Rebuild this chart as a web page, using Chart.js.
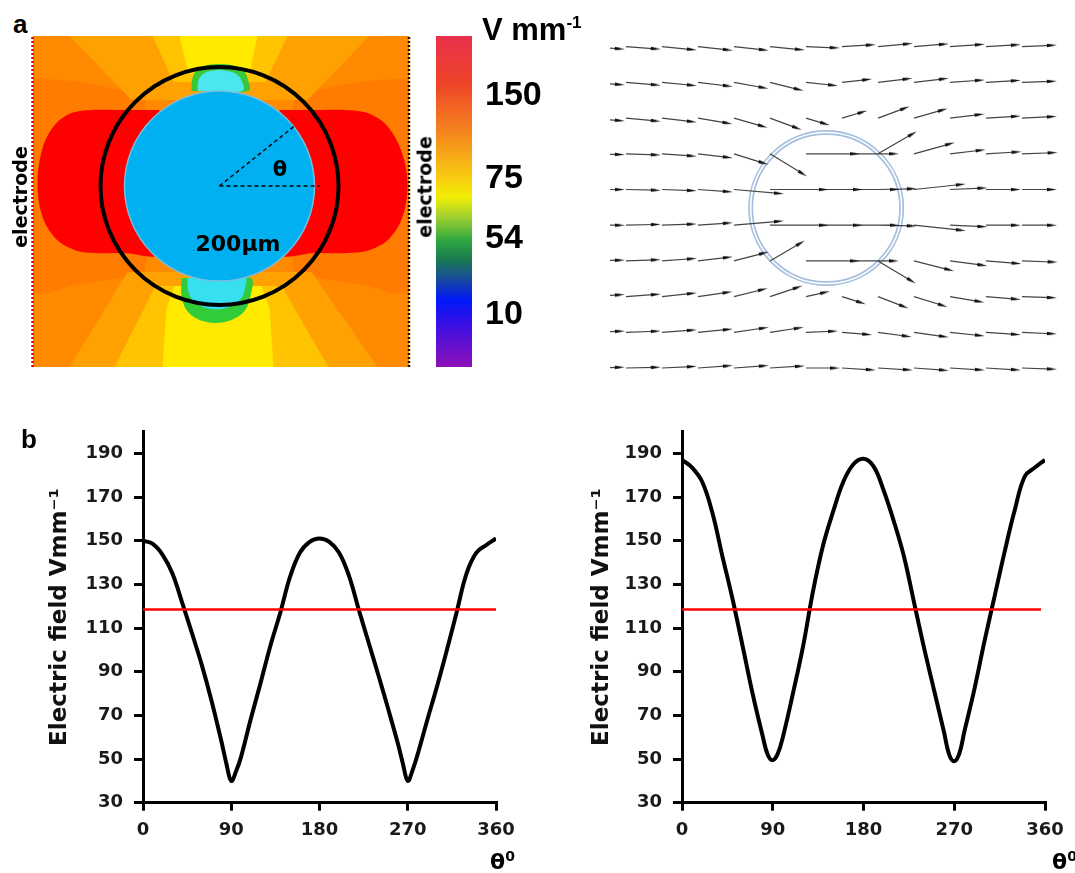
<!DOCTYPE html>
<html>
<head>
<meta charset="utf-8">
<script src="https://cdn.jsdelivr.net/npm/chart.js@4.4.1/dist/chart.umd.min.js"></script>
<style>
  body { margin: 0; background: #fff; }
  #fig { position: relative; width: 1075px; height: 873px; overflow: hidden; background: #fff; }
  #fig canvas { position: absolute; }
  .lbl { position: absolute; line-height: 1; white-space: nowrap; color: #000; font-weight: bold; }
  .arial { font-family: 'Liberation Sans', Arial, sans-serif; }
  .dv { font-family: 'DejaVu Sans', sans-serif; }
  .rot { transform: translate(-50%, -50%) rotate(-90deg); }
  .ctr { transform: translate(-50%, -50%); }
</style>
</head>
<body>
<div id="fig">
  <canvas id="fieldMap" width="386" height="331" style="left:28px;top:36px"></canvas>
  <canvas id="colorBar" width="139" height="363" style="left:436px;top:20px"></canvas>
  <canvas id="quiver" width="460" height="360" style="left:610px;top:30px"></canvas>
  <canvas id="leftChart" width="540" height="453" style="left:0;top:420px"></canvas>
  <canvas id="rightChart" width="535" height="453" style="left:540px;top:420px"></canvas>

  <div class="lbl arial" style="left:13px;top:11px;font-size:26px">a</div>
  <div class="lbl arial" style="left:21px;top:426px;font-size:26px">b</div>
  <div class="lbl arial" style="left:482px;top:14px;font-size:31px">V mm<span style="font-size:17px;position:relative;top:-12px">-1</span></div>
  <div class="lbl dv rot" style="left:20px;top:197px;font-size:19px">electrode</div>
  <div class="lbl dv rot" style="left:425px;top:187px;font-size:19px">electrode</div>
  <div class="lbl dv ctr" style="left:280px;top:169px;font-size:21px">θ</div>
  <div class="lbl dv ctr" style="left:238px;top:244px;font-size:22px">200µm</div>
  <div class="lbl dv" style="left:490px;top:851px;font-size:22px">θ<span style="font-size:14px;position:relative;top:-8px">0</span></div>
  <div class="lbl dv" style="left:1052px;top:851px;font-size:22px">θ<span style="font-size:14px;position:relative;top:-8px">0</span></div>
</div>

<script>
// ---------- 1. Data ----------

// panel b: field along the cell boundary (angle in degrees, field in V/mm)
const thetaDeg = [0, 10, 20, 30, 40, 50, 60, 70, 80, 85, 90, 95, 100, 110, 120, 130, 140, 150, 160, 170, 180,
                  190, 200, 210, 220, 230, 240, 250, 260, 265, 270, 275, 280, 290, 300, 310, 320, 330, 340, 350, 360];
const fieldLeft = [150, 148.5, 143.5, 135, 121.5, 107.5, 93, 76.5, 58, 48, 40, 44.5, 51, 68.5, 85, 102, 117, 133.5, 144.5, 149.5, 151,
                   149.5, 144.5, 134, 118.5, 103.5, 88.5, 73, 57, 48, 40, 45, 52, 68, 83.5, 100, 117.5, 135, 144.5, 148, 151];
const fieldRight = [187, 183.5, 177, 163, 143, 123.5, 102, 80, 60.5, 52, 49.5, 52.5, 60, 80, 101.5, 127, 148, 163.5, 177, 185, 187.5,
                    184, 173, 159, 143, 122, 101, 81.5, 62, 52, 49, 52.5, 62.5, 82, 104, 124.5, 145, 164, 179.5, 183.5, 187];
const thresholdLeftX = [0, 360];
const thresholdRightX = [0, 356];
const thresholdY = [118.5, 118.5];
const xTicks = [0, 90, 180, 270, 360];
const yTicks = [30, 50, 70, 90, 110, 130, 150, 170, 190];

// colour bar (V/mm labels and where they sit on the bar, 0 = bottom, 1 = top)
const cbarTickLabels = ['150', '75', '54', '10'];
const cbarTickPos = [0.819, 0.568, 0.388, 0.159];
const cbarStopPos = [0, 0.142, 0.293, 0.435, 0.486, 0.547, 0.616, 0.677, 0.737, 0.798, 0.858, 1];
const cbarStopColor = ['#e8304c', '#ee4428', '#f5861e', '#f8d010', '#f2ee05', '#a0d030', '#30a840',
                       '#187850', '#1848a0', '#0018f8', '#3010e8', '#9010b8'];

// panel a: contour bands of the field map, in µm with the cell centre at 0,0
const fieldBackground = [[-186.5, 150], [189.5, 150], [189.5, -181], [-186.5, -181]];
const haloLeft = [[-186.5, 108], [-140, 104], [-100, 96], [-75, 90], [-75, -86], [-100, -92], [-140, -98], [-186.5, -104]];
const haloRight = [[189.5, 108], [140, 104], [100, 96], [75, 90], [75, -86], [100, -92], [140, -98], [189.5, -104]];
const topFanOuter = [[-150, 150], [150, 150], [88, 86], [-88, 86]];
const topFanMid = [[-67, 150], [68, 150], [46, 104], [-46, 104]];
const topFanCore = [[-40, 150], [38, 150], [30, 112], [-31, 112]];
const botFanOuter = [[-150, -181], [158, -181], [92, -86], [-92, -86]];
const botFanMid = [[-105, -181], [109, -181], [62, -100], [-64, -100]];
const botFanCore = [[-57, -181], [54, -181], [50, -122], [42, -100], [-45, -100], [-53, -122]];
const lobeLeft = [[-60, 76], [-100, 76], [-128, 76], [-148, 73], [-163, 63], [-174, 46], [-180, 25], [-182, 3],
                  [-180, -20], [-173, -40], [-160, -56], [-142, -65], [-125, -67], [-95, -67], [-60, -67]];
const lobeRight = [[60, 76], [100, 76], [126, 76], [148, 73], [165, 63], [177, 46], [185, 25], [188, 3],
                   [186, -20], [179, -40], [166, -56], [147, -65], [128, -67], [95, -67], [60, -67]];
const greenTop = [[-28, 95], [-27, 108], [-22, 117], [-12, 121], [0, 122], [12, 121], [23, 117], [28, 108], [29, 95]];
const cyanTop = [[-22, 95], [-21, 106], [-15, 113], [0, 116], [15, 113], [22, 106], [23, 95]];
const greenBot = [[-38, -92], [-38, -110], [-33, -124], [-22, -133], [-5, -137], [12, -134], [25, -125], [31, -110], [31, -92]];
const cyanBot = [[-32, -92], [-31, -106], [-24, -117], [-8, -123], [10, -121], [22, -112], [26, -100], [26, -92]];
const radiusLine = [[0, 0], [75, 60]];
const angleLine = [[0, 0], [100, 0]];
const electrodeLeft = [[-187, -181], [-187, 150]];
const electrodeRight = [[189.5, -181], [189.5, 150]];

// panel a right: field arrows, tails on the grid, (u, v) in grid units, v pointing down
const quiverCols = [0, 1, 2, 3, 4, 5, 6, 7, 8, 9, 10, 11, 12];
const quiverRows = [0, 1, 2, 3, 4, 5, 6, 7, 8, 9];
const quiverU = [
  [.83, .83, .83, .83, .83, .83, .8, .8, .83, .83, .83, .83, .83],
  [.83, .83, .83, .83, .82, .8, .75, .7, .82, .83, .83, .83, .83],
  [.83, .83, .83, .82, .8, .75, .53, .57, .75, .8, .82, .83, .83],
  [.83, .83, .83, .83, .82, .91, 1.35, 1.44, .96, 1.0, .85, .85, .85],
  [.83, .83, .83, .83, 1.25, 1.49, 1.44, 1.46, .94, 1.3, .9, .83, .83],
  [.83, .83, .83, .83, 1.25, 1.49, 1.44, 1.46, .94, 1.3, .9, .83, .83],
  [.83, .83, .83, .83, .83, .85, 1.35, 1.44, .93, .98, .9, .85, .85],
  [.83, .83, .83, .82, .8, .77, .53, .53, .72, .8, .82, .83, .83],
  [.83, .83, .83, .83, .83, .8, .75, .7, .8, .83, .83, .83, .83],
  [.83, .83, .83, .83, .83, .83, .8, .8, .83, .83, .83, .83, .83]
];
const quiverV = [
  [.06, .06, .08, .09, .09, .08, .03, -.05, -.08, -.07, -.06, -.05, -.04],
  [.06, .07, .08, .1, .15, .2, .08, -.08, -.1, -.1, -.06, -.05, -.03],
  [.07, .08, .1, .14, .23, .28, .16, -.17, -.28, -.23, -.1, -.05, -.04],
  [.02, .03, .06, .1, .26, .56, 0, 0, -.56, -.28, -.1, -.05, -.03],
  [0, .02, .03, .06, .11, 0, 0, 0, -.02, -.14, -.04, 0, 0],
  [0, -.02, -.03, -.06, -.11, 0, 0, 0, .02, .14, .04, 0, 0],
  [-.02, -.03, -.06, -.1, -.22, -.5, 0, 0, .56, .25, .12, .07, .03],
  [-.05, -.06, -.09, -.12, -.2, -.26, -.12, .17, .28, .25, .14, .07, .03],
  [-.03, -.03, -.06, -.08, -.12, -.12, -.03, .06, .11, .12, .09, .06, .04],
  [-.02, -.02, -.04, -.06, -.06, -.05, 0, .05, .05, .06, .05, .05, .03]
];
const quiverCircle = [6.56, 4.52];

// ---------- 2. Shared bits ----------
Chart.defaults.font.family = "'DejaVu Sans', sans-serif";
const noPlugins = { legend: { display: false }, tooltip: { enabled: false } };
const toXY = pts => pts.map(p => ({ x: p[0], y: p[1] }));

// ---------- 3. Field map ----------
function polygon(pts, color, tension) {
  return {
    type: 'line', data: toXY(pts.concat([pts[0]])), fill: 'shape',
    backgroundColor: color, borderWidth: 0, pointRadius: 0, tension: tension || 0
  };
}

const fieldSets = [
  polygon(fieldBackground, '#ff8a00'),
  polygon(haloLeft, '#ff7c00', 0.3),
  polygon(haloRight, '#ff7c00', 0.3),
  polygon(topFanOuter, '#ffa100'),
  polygon(botFanOuter, '#ffa100'),
  polygon(topFanMid, '#ffc300'),
  polygon(botFanMid, '#ffc300'),
  polygon(topFanCore, '#ffea00'),
  polygon(botFanCore, '#ffea00'),
  polygon(lobeLeft, '#ff0000', 0.3),
  polygon(lobeRight, '#ff0000', 0.3),
  polygon(greenTop, '#38c838', 0.35),
  polygon(greenBot, '#32cc3a', 0.35),
  polygon(cyanTop, '#4ce6ee', 0.35),
  polygon(cyanBot, '#36e0f0', 0.35),
  { type: 'scatter', data: [{ x: 0, y: 0 }], pointRadius: 95, backgroundColor: '#00b0f0',
    borderColor: '#78bde0', borderWidth: 1.5 },
  { type: 'line', data: toXY(radiusLine), borderColor: '#000', borderWidth: 1.4, borderDash: [4, 3], pointRadius: 0 },
  { type: 'line', data: toXY(angleLine), borderColor: '#000', borderWidth: 1.4, borderDash: [4, 3], pointRadius: 0 },
  { type: 'scatter', data: [{ x: 0, y: 0 }], pointRadius: 119, backgroundColor: 'rgba(0,0,0,0)',
    borderColor: '#000', borderWidth: 4 },
  { type: 'line', data: toXY(electrodeLeft), borderColor: '#e00000', borderWidth: 2.5, borderDash: [2, 2],
    pointRadius: 0, clip: false },
  { type: 'line', data: toXY(electrodeRight), borderColor: '#111', borderWidth: 2.5, borderDash: [2, 2],
    pointRadius: 0, clip: false }
];
// first in the list is the bottom layer
fieldSets.forEach((d, i) => { d.order = fieldSets.length - i; });

new Chart(document.getElementById('fieldMap'), {
  type: 'scatter',
  data: { datasets: fieldSets },
  options: {
    responsive: false, animation: false, events: [],
    layout: { autoPadding: false, padding: { left: 5, right: 5, top: 0, bottom: 0 } },
    plugins: noPlugins,
    scales: {
      x: { type: 'linear', min: -186.5, max: 189.5, display: false },
      y: { type: 'linear', min: -181, max: 150, display: false }
    }
  }
});

// ---------- 4. Colour bar ----------
new Chart(document.getElementById('colorBar'), {
  type: 'bar',
  data: {
    labels: [''],
    datasets: [{
      data: [[0, 1]], borderWidth: 0, barPercentage: 1, categoryPercentage: 1,
      backgroundColor: (c) => {
        const area = c.chart.chartArea;
        if (!area) return '#f00';
        const g = c.chart.ctx.createLinearGradient(0, area.top, 0, area.bottom);
        cbarStopPos.forEach((p, i) => g.addColorStop(p, cbarStopColor[i]));
        return g;
      }
    }]
  },
  options: {
    responsive: false, animation: false, events: [],
    layout: { autoPadding: false, padding: { left: 0, right: 0, top: 16, bottom: 16 } },
    plugins: noPlugins,
    scales: {
      x: { display: false },
      y: {
        position: 'right', min: 0, max: 1,
        afterBuildTicks: s => { s.ticks = cbarTickPos.map(v => ({ value: v })); },
        afterFit: s => { s.width = 103; s.paddingTop = 0; s.paddingBottom = 0; },
        grid: { display: false, drawTicks: false },
        border: { display: false },
        ticks: {
          padding: 13, color: '#000',
          font: { family: "'Liberation Sans', Arial, sans-serif", size: 34, weight: 'bold' },
          callback: (v, i) => cbarTickLabels[i]
        }
      }
    }
  }
});

// ---------- 5. Arrow field ----------
function headSprite() {
  const c = document.createElement('canvas');
  c.width = 10; c.height = 5;
  const g = c.getContext('2d');
  g.fillStyle = '#111';
  g.beginPath(); g.moveTo(0, 0.8); g.lineTo(10, 2.5); g.lineTo(0, 4.2); g.closePath(); g.fill();
  return c;
}

const shafts = [];
const heads = [];
const headTurn = [];
quiverRows.forEach((r, ri) => {
  quiverCols.forEach((k, ki) => {
    const u = quiverU[ri][ki], v = quiverV[ri][ki];
    shafts.push({ x: k, y: r }, { x: k + u, y: r + v }, { x: k, y: null });
    heads.push({ x: k + u, y: r + v });
    headTurn.push(Math.atan2(v * 35.7, u * 36) * 180 / Math.PI);
  });
});

new Chart(document.getElementById('quiver'), {
  type: 'scatter',
  data: {
    datasets: [
      { data: heads, pointStyle: headSprite(), pointRotation: headTurn, pointRadius: 5, order: 0 },
      { type: 'line', data: shafts, borderColor: '#444', borderWidth: 1.2, pointRadius: 0, spanGaps: false, order: 1 },
      { data: [{ x: quiverCircle[0], y: quiverCircle[1] }], pointRadius: 75.5, backgroundColor: 'rgba(0,0,0,0)',
        borderColor: '#fff', borderWidth: 1.6, order: 2 },
      { data: [{ x: quiverCircle[0], y: quiverCircle[1] }], pointRadius: 75.5, backgroundColor: 'rgba(0,0,0,0)',
        borderColor: '#a6bfdf', borderWidth: 5, order: 3 }
    ]
  },
  options: {
    responsive: false, animation: false, events: [],
    layout: { autoPadding: false, padding: 0 },
    plugins: noPlugins,
    scales: {
      x: { type: 'linear', min: 0.556, max: 13.333, display: false },
      y: { type: 'linear', min: -0.468, max: 9.616, reverse: true, display: false }
    }
  }
});

// ---------- 6. Field vs angle charts ----------
const tickFont = { family: "'DejaVu Sans', sans-serif", size: 18, weight: 'bold' };

function drawFieldChart(id, values, thrX, axisWidth, titleGap, rightPad) {
  new Chart(document.getElementById(id), {
    type: 'line',
    data: {
      datasets: [
        { data: thrX.map((t, i) => ({ x: t, y: thresholdY[i] })), borderColor: '#ff0000', borderWidth: 2.5, pointRadius: 0 },
        { data: thetaDeg.map((t, i) => ({ x: t, y: values[i] })), borderColor: '#000', borderWidth: 4,
          pointRadius: 0, tension: 0.4 }
      ]
    },
    options: {
      responsive: false, animation: false, events: [],
      layout: { autoPadding: false, padding: { left: 0, top: 11.5, right: rightPad, bottom: 30.3 } },
      plugins: noPlugins,
      scales: {
        x: {
          type: 'linear', min: 0, max: 360,
          afterBuildTicks: s => { s.ticks = xTicks.map(v => ({ value: v })); },
          afterFit: s => { s.height = 40; s.paddingLeft = 0; s.paddingRight = 0; },
          grid: { display: true, drawOnChartArea: false, drawTicks: true, tickLength: 8, color: '#000', lineWidth: 3 },
          border: { display: true, color: '#000', width: 3 },
          ticks: { padding: 9, color: '#1a1a1a', font: tickFont, maxRotation: 0, autoSkip: false }
        },
        y: {
          type: 'linear', min: 30, max: 200,
          afterBuildTicks: s => { s.ticks = yTicks.map(v => ({ value: v })); },
          afterFit: s => { s.width = axisWidth; s.paddingTop = 0; s.paddingBottom = 0; },
          grid: { display: true, drawOnChartArea: false, drawTicks: true, tickLength: 9, color: '#000', lineWidth: 3 },
          border: { display: true, color: '#000', width: 3 },
          ticks: { padding: 11, color: '#1a1a1a', font: tickFont, autoSkip: false },
          title: {
            display: true, text: 'Electric field Vmm⁻¹', color: '#111',
            font: { family: "'DejaVu Sans', sans-serif", size: 23, weight: 'bold' },
            padding: { top: titleGap, bottom: 0 }
          }
        }
      }
    }
  });
}

drawFieldChart('leftChart', fieldLeft, thresholdLeftX, 143, 46.2, 44);
drawFieldChart('rightChart', fieldRight, thresholdRightX, 142, 48.2, 30);
</script>
</body>
</html>
